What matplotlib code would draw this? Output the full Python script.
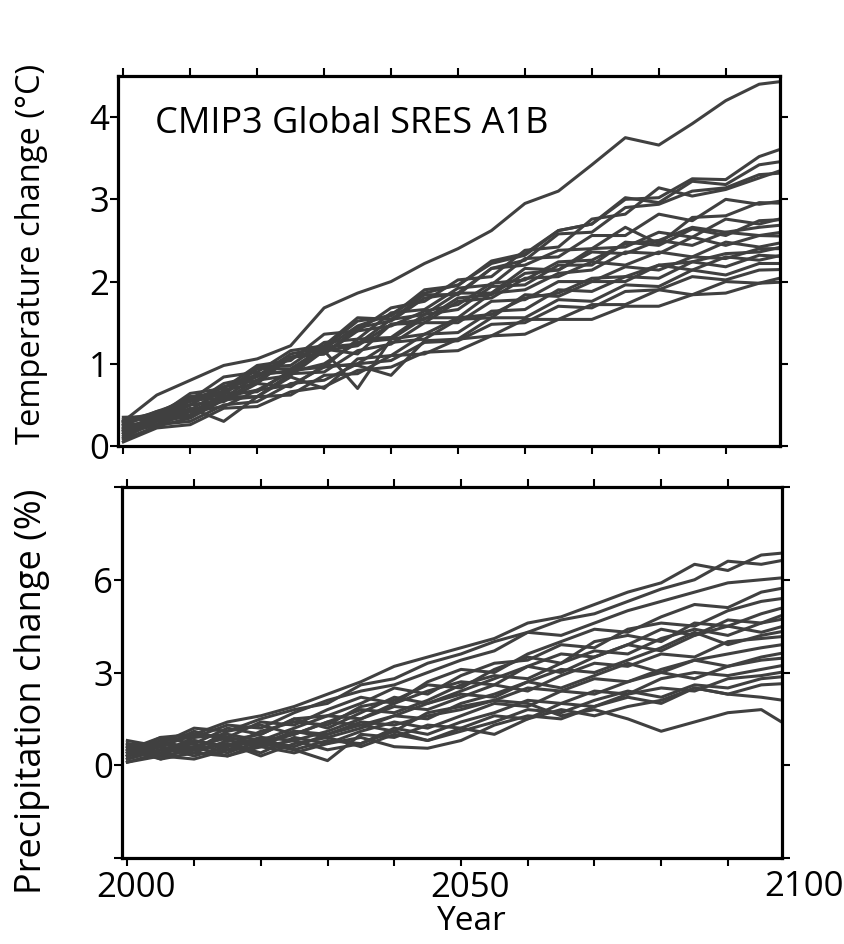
import numpy as np
import matplotlib.pyplot as plt
import matplotlib.transforms as mtransforms

plt.rcParams['font.family'] = ['Open Sans', 'DejaVu Sans']

# years sampled every 5 years
years = np.arange(2000, 2101, 5)

# global temperature change (deg C), one list per model
temp_outlier = [0.30, 0.62, 0.80, 0.98, 1.06, 1.22, 1.68, 1.86, 2.00, 2.22, 2.40,
                2.62, 2.95, 3.10, 3.42, 3.75, 3.66, 3.92, 4.20, 4.40, 4.45]
temp_models = [
    [0.25, 0.42, 0.50, 0.76, 0.85, 1.12, 1.20, 1.52, 1.58, 1.90, 1.95, 2.25, 2.34, 2.62, 2.70, 3.00, 3.02, 3.25, 3.24, 3.52, 3.66],
    [0.18, 0.38, 0.50, 0.72, 0.80, 1.08, 1.18, 1.46, 1.60, 1.86, 1.96, 2.22, 2.32, 2.62, 2.70, 3.02, 2.96, 3.22, 3.18, 3.42, 3.48],
    [0.30, 0.36, 0.64, 0.70, 0.98, 1.04, 1.36, 1.40, 1.68, 1.76, 2.02, 2.06, 2.38, 2.42, 2.76, 2.82, 3.14, 3.04, 3.12, 3.26, 3.40],
    [0.15, 0.36, 0.44, 0.68, 0.76, 1.08, 1.12, 1.44, 1.52, 1.80, 1.86, 2.16, 2.26, 2.58, 2.60, 2.90, 2.94, 3.10, 3.14, 3.30, 3.33],
    [0.22, 0.34, 0.56, 0.64, 0.96, 0.98, 1.26, 1.30, 1.62, 1.66, 1.92, 1.96, 2.28, 2.30, 2.56, 2.56, 2.82, 2.74, 3.00, 2.94, 3.00],
    [0.28, 0.42, 0.56, 0.84, 0.90, 1.16, 1.22, 1.56, 1.54, 1.84, 1.84, 2.16, 2.20, 2.38, 2.40, 2.66, 2.46, 2.78, 2.80, 2.96, 2.95],
    [0.20, 0.26, 0.50, 0.56, 0.80, 0.86, 1.16, 1.22, 1.48, 1.54, 1.80, 1.84, 2.10, 2.14, 2.40, 2.42, 2.60, 2.54, 2.76, 2.70, 2.80],
    [0.12, 0.32, 0.38, 0.64, 0.66, 0.92, 0.96, 1.30, 1.32, 1.60, 1.66, 1.94, 1.96, 2.20, 2.20, 2.48, 2.44, 2.64, 2.56, 2.74, 2.76],
    [0.32, 0.40, 0.60, 0.62, 0.94, 0.94, 1.20, 1.24, 1.54, 1.60, 1.86, 1.86, 2.16, 2.14, 2.36, 2.34, 2.50, 2.44, 2.60, 2.56, 2.62],
    [0.10, 0.30, 0.36, 0.60, 0.68, 0.90, 1.00, 1.26, 1.30, 1.56, 1.56, 1.86, 1.90, 2.10, 2.14, 2.36, 2.34, 2.54, 2.44, 2.56, 2.55],
    [0.25, 0.30, 0.56, 0.58, 0.86, 0.92, 1.18, 1.12, 1.48, 1.50, 1.76, 1.80, 2.04, 2.06, 2.24, 2.20, 2.36, 2.30, 2.48, 2.42, 2.50],
    [0.18, 0.34, 0.42, 0.60, 0.60, 0.88, 0.90, 1.16, 1.24, 1.50, 1.50, 1.76, 1.78, 2.00, 2.00, 2.18, 2.14, 2.30, 2.28, 2.40, 2.40],
    [0.20, 0.24, 0.42, 0.48, 0.68, 0.74, 0.96, 1.00, 1.26, 1.30, 1.54, 1.56, 1.84, 1.82, 2.00, 2.00, 2.20, 2.14, 2.30, 2.26, 2.35],
    [0.08, 0.24, 0.34, 0.56, 0.60, 0.84, 0.70, 1.06, 1.10, 1.36, 1.38, 1.64, 1.66, 1.90, 1.88, 2.06, 2.04, 2.24, 2.18, 2.32, 2.30],
    [0.30, 0.34, 0.50, 0.54, 0.76, 0.72, 0.98, 0.98, 0.86, 1.28, 1.30, 1.56, 1.56, 1.78, 1.76, 1.96, 1.94, 2.14, 2.08, 2.22, 2.22],
    [0.15, 0.26, 0.30, 0.50, 0.54, 0.76, 0.80, 1.00, 1.04, 1.26, 1.28, 1.48, 1.50, 1.70, 1.68, 1.88, 1.90, 2.06, 2.02, 2.14, 2.15],
    [0.22, 0.26, 0.46, 0.30, 0.60, 0.62, 0.86, 0.88, 1.10, 1.12, 1.30, 1.34, 1.54, 1.54, 1.72, 1.72, 1.90, 1.84, 2.00, 1.98, 2.08],
    [0.05, 0.22, 0.26, 0.46, 0.48, 0.66, 0.72, 0.92, 0.96, 1.14, 1.16, 1.34, 1.36, 1.54, 1.54, 1.70, 1.70, 1.84, 1.86, 1.98, 2.00],
    [0.35, 0.36, 0.60, 0.66, 0.88, 0.90, 1.16, 0.70, 1.30, 1.36, 1.56, 1.60, 1.80, 1.86, 2.04, 2.06, 2.20, 2.24, 2.34, 2.36, 2.45],
    [0.26, 0.40, 0.54, 0.72, 0.84, 1.08, 1.12, 1.40, 1.46, 1.64, 1.72, 1.98, 2.02, 2.24, 2.26, 2.46, 2.50, 2.66, 2.60, 2.66, 2.70],
]

# global precipitation change (%), one list per model
precip_models = [
    [0.5, 0.9, 1.0, 1.4, 1.6, 1.9, 2.3, 2.7, 3.2, 3.5, 3.8, 4.1, 4.6, 4.8, 5.2, 5.6, 5.9, 6.5, 6.3, 6.8, 6.9],
    [0.6, 0.7, 1.2, 1.1, 1.5, 1.8, 2.0, 2.6, 2.8, 3.3, 3.6, 4.0, 4.3, 4.7, 4.9, 5.3, 5.7, 6.0, 6.6, 6.5, 6.7],
    [0.3, 0.8, 0.9, 1.3, 1.2, 1.7, 2.1, 2.4, 2.6, 3.0, 3.4, 3.7, 4.3, 4.2, 4.6, 5.0, 5.3, 5.6, 5.9, 6.0, 6.1],
    [0.7, 0.6, 1.0, 0.9, 1.4, 1.3, 1.8, 2.2, 2.0, 2.7, 3.1, 3.0, 3.6, 4.0, 4.4, 4.3, 4.8, 5.2, 5.1, 5.6, 5.8],
    [0.4, 0.9, 0.7, 1.2, 1.0, 1.5, 1.6, 2.0, 2.5, 2.3, 2.9, 3.3, 3.4, 3.9, 3.8, 4.4, 4.6, 4.5, 5.0, 5.3, 5.45],
    [0.2, 0.5, 0.8, 0.6, 1.1, 1.4, 1.3, 1.9, 2.1, 2.6, 2.5, 3.1, 3.5, 3.3, 4.0, 4.2, 4.0, 4.6, 4.5, 4.9, 5.2],
    [0.6, 0.4, 0.9, 1.0, 0.8, 1.2, 1.6, 1.5, 2.0, 2.4, 2.7, 2.6, 3.2, 3.6, 3.5, 3.9, 4.4, 4.2, 4.7, 4.6, 5.0],
    [0.3, 0.7, 0.5, 1.1, 1.3, 1.0, 1.4, 1.8, 1.7, 2.1, 2.6, 2.9, 2.8, 3.3, 3.7, 3.6, 4.1, 4.4, 4.2, 4.6, 4.8],
    [0.8, 0.6, 1.1, 0.8, 1.0, 1.5, 1.2, 1.7, 2.2, 2.0, 2.4, 2.8, 3.2, 3.0, 3.5, 3.9, 3.7, 4.2, 4.5, 4.3, 4.6],
    [0.1, 0.4, 0.6, 0.9, 0.7, 1.0, 1.4, 1.3, 1.6, 2.0, 2.3, 2.2, 2.7, 3.1, 3.0, 3.4, 3.8, 4.3, 3.9, 4.2, 4.4],
    [0.5, 0.3, 0.8, 0.5, 0.9, 0.8, 1.1, 1.5, 1.9, 1.8, 2.2, 2.6, 2.4, 2.9, 3.3, 3.2, 3.6, 3.5, 4.0, 4.1, 4.2],
    [0.4, 0.6, 0.4, 0.8, 0.6, 1.1, 0.9, 1.2, 1.6, 1.5, 2.0, 2.3, 2.7, 2.5, 2.9, 3.3, 3.0, 3.4, 3.6, 3.8, 3.96],
    [0.2, 0.5, 0.7, 0.4, 0.8, 0.6, 1.0, 1.3, 1.1, 1.7, 1.9, 2.1, 2.5, 2.4, 2.8, 2.7, 3.1, 3.4, 3.2, 3.5, 3.7],
    [0.7, 0.3, 0.5, 0.7, 0.4, 0.9, 0.7, 1.1, 1.4, 1.2, 1.6, 2.0, 1.9, 2.4, 2.3, 2.7, 3.0, 2.8, 3.2, 3.4, 3.5],
    [0.3, 0.6, 0.3, 0.6, 0.9, 0.5, 0.8, 0.7, 1.2, 1.0, 1.4, 1.7, 2.1, 2.0, 2.4, 2.3, 2.8, 3.0, 2.9, 3.1, 3.3],
    [0.6, 0.2, 0.6, 0.3, 0.7, 0.5, 0.15, 1.0, 0.9, 1.3, 1.2, 1.6, 1.5, 2.0, 1.9, 2.3, 2.5, 2.4, 2.8, 2.9, 3.08],
    [0.4, 0.8, 0.5, 0.7, 0.3, 0.7, 0.9, 0.6, 1.0, 0.8, 1.1, 1.4, 1.8, 1.7, 2.1, 2.4, 2.2, 2.6, 2.5, 2.8, 2.9],
    [0.1, 0.3, 0.2, 0.5, 0.6, 0.4, 0.7, 0.9, 0.6, 0.55, 0.8, 1.3, 1.6, 1.5, 1.9, 2.2, 2.0, 2.5, 2.3, 2.6, 2.66],
    [0.5, 0.2, 0.4, 0.3, 0.6, 0.8, 0.5, 0.7, 1.1, 0.8, 1.2, 1.0, 1.5, 1.8, 1.6, 1.9, 2.1, 2.5, 2.3, 2.2, 2.05],
    [0.3, 0.5, 0.6, 0.9, 0.7, 1.1, 1.0, 1.4, 1.3, 1.6, 1.8, 2.1, 2.0, 1.6, 1.8, 1.5, 1.1, 1.4, 1.7, 1.8, 1.14],
]

line_col = '#404040'
lw = 2.2

fig = plt.figure(figsize=(8.45, 9.44), dpi=100)
ax1 = fig.add_axes([0.1396, 0.5275, 0.7834, 0.392])
ax2 = fig.add_axes([0.1444, 0.0911, 0.781, 0.393])

for serie in temp_models:
    ax1.plot(years, serie, color=line_col, lw=lw, solid_joinstyle='round')
ax1.plot(years, temp_outlier, color=line_col, lw=lw, solid_joinstyle='round')

for serie in precip_models:
    ax2.plot(years, serie, color=line_col, lw=lw, solid_joinstyle='round')

for ax in (ax1, ax2):
    ax.set_xlim(1999.2, 2098.1)
    for s in ax.spines.values():
        s.set_linewidth(2.3)
    ax.tick_params(which='both', direction='out', top=True, right=True,
                   length=5.5, width=1.5, colors='black')
    ax.set_xticks(np.arange(2000, 2100, 10), minor=True)

# top panel
ax1.set_ylim(0, 4.5)
ax1.set_yticks([0, 1, 2, 3, 4])
ax1.set_xticks([2000, 2050])
ax1.tick_params(axis='x', which='both', labelbottom=False)
ax1.tick_params(axis='y', labelsize=25, pad=1)
ax1.set_ylabel('Temperature change (°C)', fontsize=23.5)
ax1.yaxis.set_label_coords(-0.106, 0.52)
ax1.text(0.056, 0.846, 'CMIP3 Global SRES A1B', transform=ax1.transAxes,
         fontsize=26, ha='left', va='baseline')

# bottom panel
ax2.set_ylim(-3, 9)
ax2.set_yticks([-3, 0, 3, 6, 9])
ax2.set_yticklabels(['', '0', '3', '6', ''])
ax2.tick_params(axis='y', labelsize=25, pad=1)
ax2.set_xticks([2000, 2050])
ax2.set_xticklabels(['2000', '2050'])
ax2.tick_params(axis='x', labelsize=25, pad=4)
shift = mtransforms.ScaledTranslation(9 / 100, 0, fig.dpi_scale_trans)
for lab in ax2.get_xticklabels():
    lab.set_transform(lab.get_transform() + shift)
ax2.text(2100, -0.033, '2100', fontsize=25, ha='center', va='top', clip_on=False,
         transform=ax2.get_xaxis_transform() + shift)
ax2.set_ylabel('Precipitation change (%)', fontsize=26)
ax2.yaxis.set_label_coords(-0.109, 0.45)
ax2.set_xlabel('Year', fontsize=24)
ax2.xaxis.set_label_coords(0.53, -0.128)

fig.savefig('out.png', dpi=100)
